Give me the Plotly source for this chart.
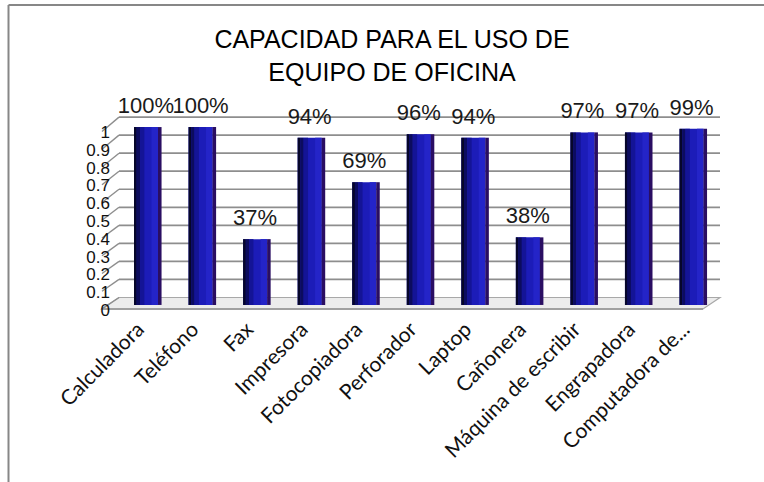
import plotly.graph_objects as go

# ---- data ----
categories = ["Calculadora", "Teléfono", "Fax", "Impresora", "Fotocopiadora",
              "Perforador", "Laptop", "Cañonera", "Máquina de escribir",
              "Engrapadora", "Computadora de..."]
values = [1.00, 1.00, 0.37, 0.94, 0.69, 0.96, 0.94, 0.38, 0.97, 0.97, 0.99]
labels = ["100%", "100%", "37%", "94%", "69%", "96%", "94%", "38%", "97%", "97%", "99%"]
y_ticks = [0, 0.1, 0.2, 0.3, 0.4, 0.5, 0.6, 0.7, 0.8, 0.9, 1]
y_tick_text = ["0", "0.1", "0.2", "0.3", "0.4", "0.5", "0.6", "0.7", "0.8", "0.9", "1"]
title_text = "CAPACIDAD PARA EL USO DE<br>EQUIPO DE OFICINA"

# ---- layout geometry (pixels) ----
W, H = 764, 482
ML, MR, MT, MB = 111, 42, 105, 171
PW = W - ML - MR
XR = [-0.6416, 10.559]
YR = [-0.034, 1.124]
LABEL_LIFT = 0.035  # extra gap (axis units) between bar top and its label (3D top face)

def px_to_paper_x(px):
    return (px - ML) / PW

# 3D depth offsets in axis units
back_dx_px, front_dx_px = 119, 102
right_back_px, right_front_px = 720, 703
def back_v(v):
    return v * 1.014 + 0.042
def front_v(v):
    return v * 0.997 - 0.0225

grid_col = "#8e8e8e"
shapes = []
# floor
xb0, xf0 = px_to_paper_x(back_dx_px), px_to_paper_x(front_dx_px)
xb1, xf1 = px_to_paper_x(right_back_px), px_to_paper_x(right_front_px)
shapes.append(dict(type="path", xref="paper", yref="y", layer="below",
                   path=f"M {xf0} {front_v(0)} L {xf1} {front_v(0)} L {xb1} {back_v(0)} L {xb0} {back_v(0)} Z",
                   fillcolor="#ececec", line=dict(color="#a8a8a8", width=1.2)))
shapes.append(dict(type="line", xref="paper", yref="y", layer="below",
                   x0=xf0, x1=xf1, y0=front_v(0), y1=front_v(0),
                   line=dict(color="#a0a0a0", width=2)))
for v in y_ticks[1:]:
    shapes.append(dict(type="line", xref="paper", yref="y", layer="below",
                       x0=xb0, x1=xb1, y0=back_v(v), y1=back_v(v),
                       line=dict(color=grid_col, width=1.7)))
for v in y_ticks:
    shapes.append(dict(type="line", xref="paper", yref="y", layer="below",
                       x0=xf0, x1=xb0, y0=front_v(v), y1=back_v(v),
                       line=dict(color=grid_col, width=1.4)))
# chart frame (left and top border)
fx = px_to_paper_x(8.5)
fyt = 1 + (MT - 5) / (H - MT - MB)
fyb = -(MB) / (H - MT - MB)
shapes.append(dict(type="line", xref="paper", yref="paper", x0=fx, x1=fx, y0=fyb, y1=fyt,
                   line=dict(color="#878787", width=2)))
shapes.append(dict(type="line", xref="paper", yref="paper", x0=fx, x1=px_to_paper_x(W + 5), y0=fyt, y1=fyt,
                   line=dict(color="#878787", width=2)))

fig = go.Figure()
# full front face
fig.add_trace(go.Bar(x=categories, y=values, offset=-0.22, width=0.44,
                     marker=dict(color="#1c1cb8", line=dict(width=0)),
                     hoverinfo="skip", showlegend=False))
# shading strips
strips = [(-0.22, 0.05, "#06062a"), (-0.17, 0.06, "#0c0c5e"), (-0.11, 0.08, "#141496"),
          (0.10, 0.12, "#2424c8")]
for off, wd, col in strips:
    fig.add_trace(go.Bar(x=categories, y=values, offset=off, width=wd,
                         marker=dict(color=col, line=dict(width=0)),
                         hoverinfo="skip", showlegend=False))
# side face
fig.add_trace(go.Bar(x=categories, y=values, offset=0.22, width=0.065,
                     marker=dict(color="#2a0e62", line=dict(width=0)),
                     hoverinfo="skip", showlegend=False))
# value labels (transparent carrier bar, lifted by the 3D top face)
fig.add_trace(go.Bar(x=categories, y=values, base=LABEL_LIFT, offset=-0.22, width=0.44,
                     marker=dict(color="rgba(0,0,0,0)", line=dict(width=0)),
                     text=labels, textposition="outside", constraintext="none",
                     cliponaxis=False,
                     textfont=dict(family="Liberation Sans, Arial, sans-serif", size=22, color="#1a1a1a"),
                     hoverinfo="skip", showlegend=False))

fig.update_layout(
    width=W, height=H,
    margin=dict(l=ML, r=MR, t=MT, b=MB, pad=0),
    paper_bgcolor="white", plot_bgcolor="rgba(0,0,0,0)",
    barmode="overlay",
    showlegend=False,
    title=dict(text=title_text, x=392 / W, xanchor="center", xref="container",
               y=1 - 48 / H, yanchor="top", yref="container",
               font=dict(family="Liberation Sans, Arial, sans-serif", size=25, color="#000000")),
    xaxis=dict(range=XR, showgrid=False, zeroline=False, showline=False, ticks="",
               tickangle=-45, ticklabelstandoff=1, ticklabelshift=-8,
               tickfont=dict(family="Lato, sans-serif", size=21, color="#111111")),
    yaxis=dict(range=YR, tickvals=y_ticks, ticktext=y_tick_text, showgrid=False,
               zeroline=False, showline=False, ticks="", ticklabelshift=5,
               tickfont=dict(family="Liberation Sans, Arial, sans-serif", size=17, color="#111111")),
    shapes=shapes,
)

fig.write_html("out.html")
